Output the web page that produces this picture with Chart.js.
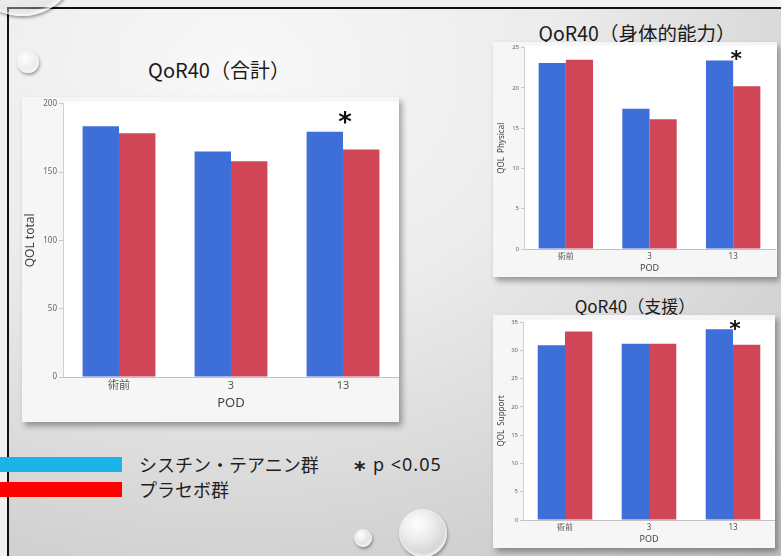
<!DOCTYPE html>
<html lang="ja">
<head>
<meta charset="utf-8">
<title>QoR40</title>
<script src="https://cdn.jsdelivr.net/npm/chart.js@4.4.1/dist/chart.umd.min.js"></script>
<style>
  html, body { margin: 0; padding: 0; }
  body { width: 781px; height: 556px; background: #f1f1f1; position: relative; overflow: hidden;
         font-family: "Noto Sans CJK JP", "Noto Sans", sans-serif; }
  #slide { position: absolute; left: 7px; top: 7px; width: 780px; height: 560px; overflow: hidden;
           border-left: 2px solid #111; border-top: 2px solid #111;
           background: radial-gradient(ellipse 900px 700px at 230px 60px, #f8f8f8 0%, #ececec 35%, #d6d6d6 65%, #bdbdbd 100%); }
  .bubble { position: absolute; border-radius: 50%;
            background: radial-gradient(circle at 38% 32%, rgba(255,255,255,0.98) 0%, rgba(245,245,245,0.75) 35%, rgba(210,210,210,0.35) 72%, rgba(255,255,255,0.9) 100%);
            box-shadow: 1px 2px 3px rgba(0,0,0,0.35), inset -1px -2px 3px rgba(255,255,255,0.8); }
  .title { position: absolute; transform: translate(-50%, -50%); white-space: nowrap; color: #1a1a1a; line-height: 1; }
  .panel { position: absolute; background: #f6f6f6; box-shadow: 3px 4px 6px rgba(0,0,0,0.35); }
  .panel canvas { display: block; }
  .swatch { position: absolute; left: 0; width: 122px; height: 15px; }
  .legend-text { position: absolute; font-size: 18px; color: #1e1e1e; white-space: pre; line-height: 1; }
</style>
</head>
<body>
<div id="slide"></div>
<div class="bubble" style="left:-34px;top:-96px;width:112px;height:112px;"></div>
<div class="bubble" style="left:17px;top:51px;width:22px;height:22px;"></div>
<div class="bubble" style="left:354px;top:529px;width:18px;height:18px;"></div>
<div class="bubble" style="left:399px;top:509px;width:48px;height:48px;"></div>

<div class="title" style="left:219px;top:70px;font-size:20px;">QoR40（合計）</div>
<div class="title" style="left:637px;top:33px;font-size:19.5px;">QoR40（身体的能力）</div>
<div class="title" style="left:635px;top:305px;font-size:17px;">QoR40（支援）</div>

<div class="panel" style="left:22px;top:97px;width:377px;height:325px;"><canvas id="chartTotal" width="377" height="325"></canvas></div>
<div class="panel" style="left:493px;top:42px;width:284px;height:235px;"><canvas id="chartPhysical" width="284" height="235"></canvas></div>
<div class="panel" style="left:493px;top:315px;width:282px;height:233px;"><canvas id="chartSupport" width="282" height="233"></canvas></div>

<div class="swatch" style="top:457px;background:#1cb2ea;"></div>
<div class="swatch" style="top:482px;background:#fe0000;"></div>
<div class="legend-text" style="left:139px;top:455px;">シスチン・テアニン群</div>
<div class="legend-text" style="left:139px;top:480px;">プラセボ群</div>
<div class="legend-text" style="left:354px;top:459px;font-size:22px;font-weight:bold;font-family:'DejaVu Sans',sans-serif;">*</div>
<div class="legend-text" style="left:373px;top:455px;font-size:18px;letter-spacing:1px;font-family:'Noto Sans',sans-serif;">p &lt;0.05</div>

<script>
// Post-operative day categories shared by all three panels
const podLabels = ['術前', '3', '13'];
const groupNames = ['シスチン・テアニン群', 'プラセボ群'];

// QoR40 total score
const totalTheanine = [183.5, 165, 179.5];
const totalPlacebo  = [178.5, 158, 166.5];
// QoR40 physical independence
const physicalTheanine = [23.1, 17.4, 23.4];
const physicalPlacebo  = [23.5, 16.1, 20.2];
// QoR40 patient support
const supportTheanine = [30.9, 31.15, 33.7];
const supportPlacebo  = [33.3, 31.15, 31.0];

// y-axis ranges and tick steps
const totalAxis    = { max: 200, step: 50 };
const physicalAxis = { max: 25,  step: 5 };
const supportAxis  = { max: 35,  step: 5 };

// p < 0.05 between groups
const significant = [false, false, true];

Chart.defaults.font.family = "'Noto Sans', 'Noto Sans CJK JP', sans-serif";

const plotBackground = {
  id: 'plotBackground',
  beforeDraw(chart) {
    const { ctx, chartArea: a } = chart;
    ctx.save();
    ctx.fillStyle = '#ffffff';
    ctx.fillRect(a.left, a.top - 2, a.right - a.left + 2, a.bottom - a.top + 2);
    ctx.restore();
  }
};

// asterisk above each significant pair, centred on the pair's midline
const sigStars = {
  id: 'sigStars',
  afterDatasetsDraw(chart, args, o) {
    const ctx = chart.ctx;
    const meta = chart.getDatasetMeta(0);
    ctx.save();
    ctx.font = `bold ${o.size}px 'DejaVu Sans'`;
    ctx.fillStyle = '#111';
    ctx.textAlign = 'center';
    ctx.textBaseline = 'alphabetic';
    significant.forEach((sig, i) => {
      if (!sig) return;
      const bar = meta.data[i];
      const cy = bar.y - o.gap;
      ctx.fillText('*', bar.x + bar.width / 2 + o.dx, cy + 0.6 * o.size);
    });
    ctx.restore();
  }
};

function buildChart(id, theanine, placebo, axis, o) {
  return new Chart(document.getElementById(id), {
    type: 'bar',
    data: {
      labels: podLabels,
      datasets: [
        { label: groupNames[0], data: theanine, backgroundColor: '#3e6ed8' },
        { label: groupNames[1], data: placebo,  backgroundColor: '#d14656' }
      ]
    },
    options: {
      responsive: false,
      animation: false,
      devicePixelRatio: 1,
      layout: { padding: { top: o.padTop, right: o.padRight, left: 0, bottom: 0 } },
      datasets: { bar: { categoryPercentage: 0.65, barPercentage: 1, borderWidth: 0 } },
      plugins: {
        legend: { display: false },
        tooltip: { enabled: false },
        sigStars: { size: o.starSize, dx: o.starDx, gap: o.starGap }
      },
      scales: {
        x: {
          grid: { display: false, drawTicks: false },
          border: { color: '#c9bcc2', width: 1 },
          ticks: { color: '#555', font: { size: o.xTick }, padding: o.xTickPad },
          title: { display: true, text: 'POD', color: '#444', font: { size: o.xTitle },
                   padding: { top: 0, bottom: o.xTitlePad } },
          afterFit(s) { s.height = o.xH; }
        },
        y: {
          min: 0, max: axis.max,
          ticks: { stepSize: axis.step, color: '#666', font: { size: o.yTick }, padding: 2 },
          grid: { drawOnChartArea: false, tickLength: o.tickLen, color: '#c8c8c8' },
          border: { color: '#cfcfcf', width: 1 },
          title: { display: true, text: o.yTitle, color: '#444', font: { size: o.yTitleSize },
                   padding: { top: o.yTitlePad, bottom: 0 } },
          afterFit(s) { s.width = o.yW; }
        }
      }
    },
    plugins: [plotBackground, sigStars]
  });
}

buildChart('chartTotal', totalTheanine, totalPlacebo, totalAxis, {
  padTop: 2, padRight: 0, yW: 41, xH: 45,
  xTick: 11, xTickPad: 2, xTitle: 13, xTitlePad: 11,
  yTick: 8, tickLen: 4, yTitle: 'QOL total', yTitleSize: 12, yTitlePad: 1,
  starSize: 26, starDx: 2, starGap: 16
});
buildChart('chartPhysical', physicalTheanine, physicalPlacebo, physicalAxis, {
  padTop: 3, padRight: 2, yW: 31, xH: 28,
  xTick: 8, xTickPad: 3, xTitle: 9, xTitlePad: 3.5,
  yTick: 6, tickLen: 3, yTitle: 'QOL  Physical', yTitleSize: 8, yTitlePad: 4,
  starSize: 22, starDx: 3, starGap: 8
});
buildChart('chartSupport', supportTheanine, supportPlacebo, supportAxis, {
  padTop: 7, padRight: 0, yW: 30, xH: 28,
  xTick: 8, xTickPad: 3, xTitle: 9, xTitlePad: 3.3,
  yTick: 6, tickLen: 3, yTitle: 'QOL  Support', yTitleSize: 8, yTitlePad: 4,
  starSize: 22, starDx: 2, starGap: 7
});
</script>
</body>
</html>
